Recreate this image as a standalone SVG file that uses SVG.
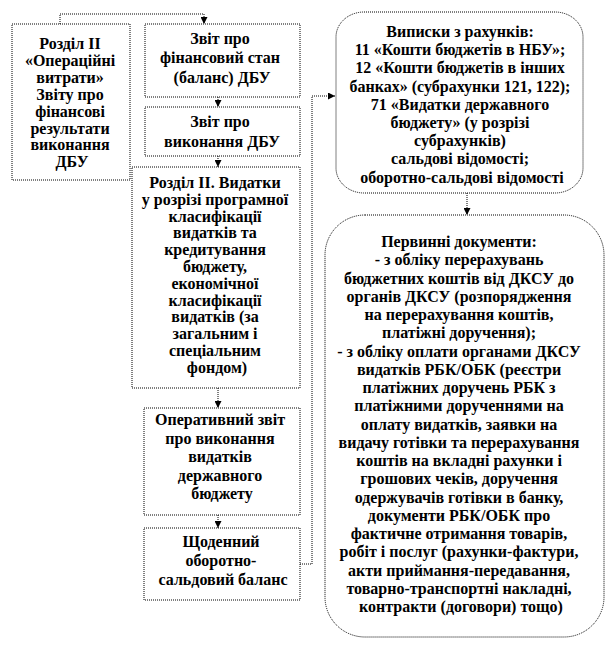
<svg xmlns="http://www.w3.org/2000/svg" width="612" height="648" viewBox="0 0 612 648">
<defs>
<marker id="arr" viewBox="0 0 10 10" refX="10" refY="5" markerWidth="7" markerHeight="7" markerUnits="userSpaceOnUse" orient="auto">
<path d="M0,0 L10,5 L0,10 z" fill="#000"/>
</marker>
</defs>
<style>
.box{fill:#fff;stroke:#000;stroke-width:1;stroke-dasharray:1 1}
.con{fill:none;stroke:#000;stroke-width:1;stroke-dasharray:1 1}
.t{font-family:"Liberation Serif","Times New Roman",serif;font-weight:bold;font-size:16px;fill:#000;text-anchor:middle}
</style>
<rect width="612" height="648" fill="#fff"/>
<g id="connectors">
<path class="con" d="M60,24 V14 H204 V24" marker-end="url(#arr)"/>
<path class="con" d="M218,97 V107" marker-end="url(#arr)"/>
<path class="con" d="M218,156 V167" marker-end="url(#arr)"/>
<path class="con" d="M218,388 V408" marker-end="url(#arr)"/>
<path class="con" d="M218,515 V528" marker-end="url(#arr)"/>
<path class="con" d="M300,564 H312 V96 H335" marker-end="url(#arr)"/>
<path class="con" d="M467,193 V215" marker-end="url(#arr)"/>
</g>
<g id="n-rozdil2-op">
<rect class="box" x="12" y="24" width="118" height="156"/>
<text class="t" x="72" y="49">
<tspan x="72">Розділ ІІ</tspan>
<tspan x="72" dy="16.9">«Операційні</tspan>
<tspan x="72" dy="16.9">витрати»</tspan>
<tspan x="72" dy="16.9">Звіту про</tspan>
<tspan x="72" dy="16.9">фінансові</tspan>
<tspan x="72" dy="16.9">результати</tspan>
<tspan x="72" dy="16.9">виконання</tspan>
<tspan x="72" dy="16.9">ДБУ</tspan>
</text>
</g>
<g id="n-balans">
<rect class="box" x="145" y="24" width="155" height="73"/>
<text class="t" x="222" y="44">
<tspan x="222">Звіт про</tspan>
<tspan x="222" dy="19.3">фінансовий стан</tspan>
<tspan x="222" dy="19.3">(баланс) ДБУ</tspan>
</text>
</g>
<g id="n-vykonannia">
<rect class="box" x="145" y="107" width="155" height="49"/>
<text class="t" x="222" y="127">
<tspan x="222">Звіт про</tspan>
<tspan x="222" dy="19.5">виконання ДБУ</tspan>
</text>
</g>
<g id="n-vydatky">
<rect class="box" x="132" y="167" width="168" height="221"/>
<text class="t" x="217" y="188">
<tspan x="217">Розділ ІІ. Видатки</tspan>
<tspan x="217" dy="16.8">у розрізі програмної</tspan>
<tspan x="217" dy="16.8">класифікації</tspan>
<tspan x="217" dy="16.8">видатків та</tspan>
<tspan x="217" dy="16.8">кредитування</tspan>
<tspan x="217" dy="16.8">бюджету,</tspan>
<tspan x="217" dy="16.8">економічної</tspan>
<tspan x="217" dy="16.8">класифікації</tspan>
<tspan x="217" dy="16.8">видатків (за</tspan>
<tspan x="217" dy="16.8">загальним і</tspan>
<tspan x="217" dy="16.8">спеціальним</tspan>
<tspan x="217" dy="16.8">фондом)</tspan>
</text>
</g>
<g id="n-operatyvnyi">
<rect class="box" x="144" y="408" width="156" height="107"/>
<text class="t" x="222" y="425">
<tspan x="222">Оперативний звіт</tspan>
<tspan x="222" dy="18.6">про виконання</tspan>
<tspan x="222" dy="18.6">видатків</tspan>
<tspan x="222" dy="18.6">державного</tspan>
<tspan x="222" dy="18.6">бюджету</tspan>
</text>
</g>
<g id="n-shchodennyi">
<rect class="box" x="144" y="528" width="156" height="72"/>
<text class="t" x="223" y="547">
<tspan x="223">Щоденний</tspan>
<tspan x="223" dy="19">оборотно-</tspan>
<tspan x="223" dy="19">сальдовий баланс</tspan>
</text>
</g>
<g id="n-vypysky">
<rect class="box" x="336" y="12" width="247" height="181" rx="28" ry="25"/>
<text class="t" x="462" y="37">
<tspan x="462">Виписки з рахунків:</tspan>
<tspan x="462" dy="18.2">11 «Кошти бюджетів в НБУ»;</tspan>
<tspan x="462" dy="18.2">12 «Кошти бюджетів в інших</tspan>
<tspan x="462" dy="18.2">банках» (субрахунки 121, 122);</tspan>
<tspan x="462" dy="18.2">71 «Видатки державного</tspan>
<tspan x="462" dy="18.2">бюджету» (у розрізі</tspan>
<tspan x="462" dy="18.2">субрахунків)</tspan>
<tspan x="462" dy="18.2">сальдові відомості;</tspan>
<tspan x="462" dy="18.2">оборотно-сальдові відомості</tspan>
</text>
</g>
<g id="n-pervynni">
<rect class="box" x="325" y="215" width="279" height="422" rx="40" ry="40"/>
<text class="t" x="461" y="247">
<tspan x="461">Первинні документи:</tspan>
<tspan x="461" dy="18.25">- з обліку перерахувань</tspan>
<tspan x="461" dy="18.25">бюджетних коштів від ДКСУ до</tspan>
<tspan x="461" dy="18.25">органів ДКСУ (розпорядження</tspan>
<tspan x="461" dy="18.25">на перерахування коштів,</tspan>
<tspan x="461" dy="18.25">платіжні доручення);</tspan>
<tspan x="461" dy="18.25">- з обліку оплати органами ДКСУ</tspan>
<tspan x="461" dy="18.25">видатків РБК/ОБК (реєстри</tspan>
<tspan x="461" dy="18.25">платіжних доручень РБК з</tspan>
<tspan x="461" dy="18.25">платіжними дорученнями на</tspan>
<tspan x="461" dy="18.25">оплату видатків, заявки на</tspan>
<tspan x="461" dy="18.25">видачу готівки та перерахування</tspan>
<tspan x="461" dy="18.25">коштів на вкладні рахунки і</tspan>
<tspan x="461" dy="18.25">грошових чеків, доручення</tspan>
<tspan x="461" dy="18.25">одержувачів готівки в банку,</tspan>
<tspan x="461" dy="18.25">документи РБК/ОБК про</tspan>
<tspan x="461" dy="18.25">фактичне отримання товарів,</tspan>
<tspan x="461" dy="18.25">робіт і послуг (рахунки-фактури,</tspan>
<tspan x="461" dy="18.25">акти приймання-передавання,</tspan>
<tspan x="461" dy="18.25">товарно-транспортні накладні,</tspan>
<tspan x="461" dy="18.25">контракти (договори) тощо)</tspan>
</text>
</g>
</svg>
